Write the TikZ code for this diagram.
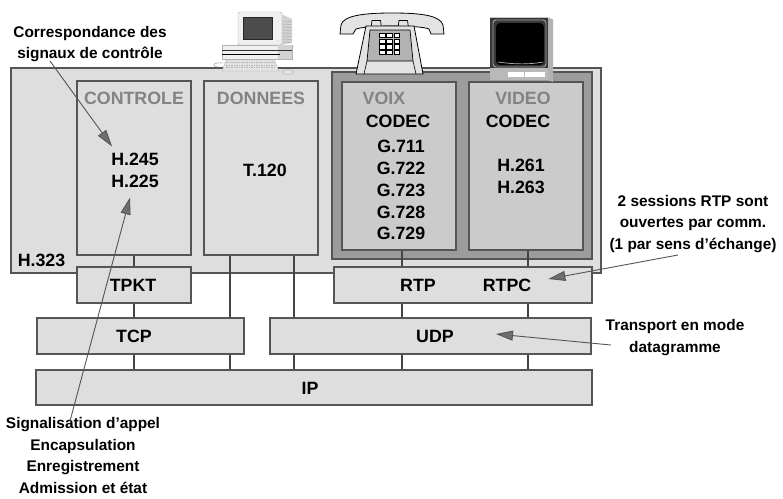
\documentclass[tikz,border=0pt]{standalone}
\usepackage{fontspec}
\setmainfont{Liberation Sans}
\usetikzlibrary{arrows.meta}

\definecolor{panel}{HTML}{DEDEDE}
\definecolor{edge}{HTML}{555555}
\definecolor{mediabg}{HTML}{9C9C9C}
\definecolor{codecbg}{HTML}{CBCBCB}
\definecolor{dimtext}{HTML}{838383}
\definecolor{wire}{HTML}{454545}
\definecolor{pointer}{HTML}{555555}
\definecolor{tipfill}{HTML}{6E6E6E}

\begin{document}
\begin{tikzpicture}[x=1pt,y=-1pt,
  layer/.style={draw=edge, fill=panel, line width=1.1pt, inner sep=0pt},
  mediabox/.style={draw=edge, fill=mediabg, line width=1.1pt, inner sep=0pt},
  codecbox/.style={draw=edge, fill=codecbg, line width=1.1pt, inner sep=0pt},
  lbl/.style={inner sep=0pt, font=\fontsize{17.8}{21.8}\selectfont\bfseries, align=center},
  dimlbl/.style={lbl, text=dimtext},
  note/.style={inner sep=0pt, font=\fontsize{15.4}{21.7}\selectfont\bfseries, align=center},
  link/.style={draw=wire, line width=2pt},
  pointerline/.style={draw=pointer, line width=0.9pt,
    -{Triangle[length=17pt,width=10pt,fill=tipfill]}}
]
\useasboundingbox (0,0) rectangle (783,498);

% ---------- protocol boxes ----------
\node[layer, minimum width=590pt, minimum height=205pt] (h323) at (306,170.5) {};
\node[layer, minimum width=114pt, minimum height=174pt] (controle) at (134,168) {};
\node[layer, minimum width=114pt, minimum height=174pt] (donnees) at (261,168) {};
\node[mediabox, minimum width=260pt, minimum height=187pt] (media) at (462,165.5) {};
\node[codecbox, minimum width=114pt, minimum height=168pt] (voix) at (399,166) {};
\node[codecbox, minimum width=114pt, minimum height=168pt] (video) at (526,166) {};

\node[layer, minimum width=114pt, minimum height=36pt] (tpkt) at (134,285) {};
\node[layer, minimum width=258pt, minimum height=36pt] (rtp) at (463,285) {};
\node[layer, minimum width=207pt, minimum height=36pt] (tcp) at (140.5,336) {};
\node[layer, minimum width=321pt, minimum height=36pt] (udp) at (430.5,336) {};
\node[layer, minimum width=556pt, minimum height=35pt] (ip) at (314,387.5) {};

% ---------- vertical links between layers ----------
\coordinate (xa) at (134,0);
\coordinate (xb) at (230,0);
\coordinate (xc) at (294,0);
\coordinate (xd) at (402,0);
\coordinate (xe) at (528,0);

\draw[link] (xa |- controle.south) -- (xa |- tpkt.north);
\draw[link] (xa |- tpkt.south) -- (xa |- tcp.north);
\draw[link] (xa |- tcp.south) -- (xa |- ip.north);

\draw[link] (xb |- donnees.south) -- (xb |- tcp.north);
\draw[link] (xb |- tcp.south) -- (xb |- ip.north);

\draw[link] (xc |- donnees.south) -- (xc |- udp.north);
\draw[link] (xc |- udp.south) -- (xc |- ip.north);

\draw[link] (xd |- voix.south) -- (xd |- rtp.north);
\draw[link] (xd |- rtp.south) -- (xd |- udp.north);
\draw[link] (xd |- udp.south) -- (xd |- ip.north);

\draw[link] (xe |- video.south) -- (xe |- rtp.north);
\draw[link] (xe |- rtp.south) -- (xe |- udp.north);
\draw[link] (xe |- udp.south) -- (xe |- ip.north);

% ---------- box labels ----------
\node[lbl] (h323lbl) at (41.5,260) {H.323};
\node[dimlbl] (controlelbl) at (134,98) {CONTROLE};
\node[dimlbl] (donneeslbl) at (261,98) {DONNEES};
\node[dimlbl] (voixlbl) at (384,98) {VOIX};
\node[dimlbl] (videolbl) at (523,98) {VIDEO};
\node[lbl] (h245) at (135,159) {H.245};
\node[lbl] (h225) at (135,181) {H.225};
\node[lbl] (t120) at (265,170) {T.120};
\node[lbl] (voixcodec) at (398,121) {CODEC};
\node[lbl, anchor=north] (voixlist) at (401,140) {G.711\\G.722\\G.723\\G.728\\G.729};
\node[lbl] (videocodec) at (518,121) {CODEC};
\node[lbl, anchor=north] (videolist) at (521,159) {H.261\\H.263};
\node[lbl] (tpktlbl) at (133,285) {TPKT};
\node[lbl] (rtplbl) at (418,285) {RTP};
\node[lbl] (rtpclbl) at (507,285) {RTPC};
\node[lbl] (tcplbl) at (134,336) {TCP};
\node[lbl] (udplbl) at (435,336) {UDP};
\node[lbl] (iplbl) at (310,388) {IP};

% ---------- annotations ----------
\node[note] (corr) at (90,44) {Correspondance des\\signaux de contrôle};
\node[note, anchor=north] (sig) at (83,417) {Signalisation d’appel\\Encapsulation\\Enregistrement\\Admission et état};
\node[note] (sessions) at (693,224) {2 sessions RTP sont\\ouvertes par comm.\\(1 par sens d’échange)};
\node[note] (transport) at (675,337.5) {Transport en mode\\datagramme};

\coordinate (corrfoot) at (50,61);
\coordinate (sigfoot) at (70,421);
\coordinate (sessfoot) at (678,255);
\coordinate (transfoot) at (611,345);

\draw[pointerline] (corrfoot) -- ([shift={(1,-6)}]h245.north west);
\draw[pointerline] (sigfoot) -- ([shift={(-5,10)}]h225.south);
\draw[pointerline] (sessfoot) -- ([shift={(17,-6)}]rtpclbl.east);
\draw[pointerline] (transfoot) -- ([shift={(42,-2)}]udplbl.east);

% ---------- desktop computer ----------
\fill[gray!35] (281,14) -- (292,19) -- (292,43) -- (281,45) -- cycle;
\foreach \v in {21,24,...,42} \draw[gray!65, line width=0.5pt] (282,\v) -- (291,\v+0.4);
\draw[fill=gray!12, draw=gray!60, rounded corners=2pt] (238,12) rectangle (282,45);
\draw[fill=black!70, draw=black!85, line width=0.6pt] (243,17) rectangle (272,39);
\fill[gray!55] (278,41) circle (0.6);
\draw[fill=gray!12, draw=gray!60] (222,45) rectangle (292,59);
\fill[gray!35] (278,45) rectangle (292,59);
\draw[black!80, line width=1pt] (222,50) -- (292,50);
\draw[black, line width=1.4pt] (222,54.5) -- (280,54.5);
\draw[fill=gray!22, draw=gray!60] (226,60) -- (274,60) -- (279,71) -- (222,71) -- cycle;
\foreach \r in {62.5,65,67.5} \draw[gray!60, line width=0.7pt, dash pattern=on 1.5pt off 1pt] (226,\r) -- (276,\r);
\draw[gray!60, line width=0.7pt] (223,63) .. controls (213,62) and (211,66) .. (218,67);
\draw[fill=gray!22, draw=gray!60] (288,72) ellipse (6 and 2.2);

% ---------- telephone ----------
\draw[fill=gray!22, line width=0.8pt] (340,34) -- (341,25)
  .. controls (343,16) and (362,13) .. (392,13)
  .. controls (424,13) and (440,16) .. (443,25) -- (444,34) -- (431,34) -- (429,29)
  .. controls (420,25) and (368,25) .. (356,29) -- (353,34) -- cycle;
\draw[fill=gray!22, line width=0.7pt] (371,28) -- (372,20.5) -- (380.5,20.5) -- (381.5,28);
\draw[fill=gray!22, line width=0.7pt] (398,28) -- (399,20.5) -- (407.5,20.5) -- (408.5,28);
\draw[fill=gray!22, line width=0.8pt] (366,26) -- (414,26) -- (423,74) -- (356,74) -- cycle;
\draw[fill=gray!60, line width=0.7pt] (370,30) -- (410,30) -- (413,61) -- (367,61) -- cycle;
\draw[line width=0.6pt] (367,61) -- (364,74);
\draw[line width=0.6pt] (413,61) -- (416,74);
\foreach \c in {0,1,2} \foreach \r in {0,1,2,3}
  \draw[fill=white, line width=0.5pt] (379.5+\c*7.2,33+\r*5.8) rectangle ++(5.6,4.2);

% ---------- television ----------
\fill[gray!60] (547,17) -- (553,19.5) -- (553,82) -- (547,80) -- cycle;
\fill[black!78] (490,17) rectangle (548,80);
\draw[gray!45, line width=0.8pt] (490,17) -- (548,17);
\draw[gray!70, line width=0.9pt, rounded corners=3pt] (493,20) rectangle (546,67);
\fill[black, rounded corners=4pt] (496,23) rectangle (544,65);
\draw[gray!60, line width=0.7pt] (498,62) .. controls (515,64.5) and (530,64.5) .. (543,62);
\fill[gray!55] (490,68) rectangle (548,80);
\fill[white] (508,72) rectangle (523.5,76.5);
\fill[white] (525,72) rectangle (545,76.5);
\end{tikzpicture}
\end{document}
